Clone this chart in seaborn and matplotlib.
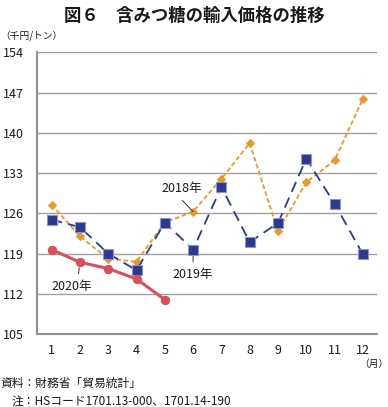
import matplotlib
matplotlib.use("Agg")
import matplotlib.pyplot as plt
import numpy as np
import pandas as pd
import seaborn as sns

# data (thousand yen / tonne)
months = list(range(1, 13))
y2018 = [127.5, 122.0, 118.1, 117.6, 124.4, 126.3, 132.0, 138.2, 122.9, 131.4, 135.2, 145.9]
y2019 = [124.9, 123.6, 119.0, 116.1, 124.4, 119.7, 130.6, 121.0, 124.3, 135.5, 127.7, 118.9]
months_2020 = [1, 2, 3, 4, 5]
y2020 = [119.7, 117.5, 116.4, 114.6, 111.0]
yticks = [105, 112, 119, 126, 133, 140, 147, 154]

sns.set_theme(style="white")
plt.rcParams["font.family"] = ["Noto Sans CJK JP", "DejaVu Sans"]

fig = plt.figure(figsize=(3.88, 4.07), dpi=100)
ax = fig.add_axes([0.0966, 0.179, 0.875, 0.6925])

orange = "#E69A2A"
blue = "#2B3990"
red = "#D9505A"
txt = "#1A1A1A"

sns.lineplot(x=months, y=y2018, ax=ax, color=orange, lw=1.3,
             marker="D", markersize=4.2, markeredgecolor=orange,
             linestyle=(0, (2.6, 1.4)), zorder=3)
sns.lineplot(x=months, y=y2019, ax=ax, color=blue, lw=1.3,
             marker="s", markersize=6.8, markeredgecolor="#8E96C8",
             markeredgewidth=0.8, linestyle=(0, (6, 3.5)), zorder=4)
sns.lineplot(x=months_2020, y=y2020, ax=ax, color=red, lw=2.2,
             marker="o", markersize=6, markeredgecolor=red, zorder=5)

ax.set_xlim(0.5, 12.5)
ax.set_ylim(105, 154)
ax.set_yticks(yticks)
ax.set_yticklabels([str(v) for v in yticks], fontsize=9, color=txt)
ax.set_xticks(months)
ax.set_xticklabels([str(m) for m in months], fontsize=9, color=txt)
ax.tick_params(axis="x", length=0, pad=7)
ax.tick_params(axis="y", direction="out", length=2.5, width=0.8,
               color="#909090", pad=7)
ax.set_xticks(np.arange(0.5, 13, 1), minor=True)
ax.tick_params(axis="x", which="minor", direction="in", length=4,
               width=1, color="#888888")

ax.grid(axis="y", color="#A0A0A0", lw=1)
ax.set_axisbelow(True)
for s in ["top", "right"]:
    ax.spines[s].set_visible(False)
for s in ["left", "bottom"]:
    ax.spines[s].set_color("#909090")
    ax.spines[s].set_linewidth(1.5)
ax.set_xlabel("")
ax.set_ylabel("")

# series labels with leader lines
lead = dict(arrowstyle="-", color="#333333", lw=0.7)
ax.annotate("2018年", xy=(6, y2018[5]), xytext=(5.59, 130.3), fontsize=9,
            color=txt, ha="center", va="center",
            arrowprops=dict(lead, relpos=(0.4, 0.0), shrinkB=0))
ax.annotate("2019年", xy=(6, y2019[5]), xytext=(6.0, 115.4), fontsize=9,
            color=txt, ha="center", va="center",
            arrowprops=dict(lead, relpos=(0.5, 1.0), shrinkB=4.5))
ax.annotate("2020年", xy=(2, y2020[1]), xytext=(1.71, 113.3), fontsize=9,
            color=txt, ha="center", va="center",
            arrowprops=dict(lead, relpos=(0.65, 1.0), shrinkB=4))

fig.text(0.5, 0.962, "図６　含みつ糖の輸入価格の推移", ha="center", va="center",
         fontsize=12.5, fontweight="bold", color=txt)
fig.text(0.0, 0.912, "（千円/トン）", ha="left", va="center", fontsize=7,
         color=txt)
fig.text(1.0, 0.105, "（月）", ha="right", va="center", fontsize=7,
         color=txt)
fig.text(0.0, 0.058, "資料：財務省「貿易統計」", ha="left", va="center",
         fontsize=8.5, color=txt)
fig.text(0.03, 0.015, "注：HSコード1701.13-000、1701.14-190", ha="left",
         va="center", fontsize=8.5, color=txt)

fig.savefig("out.png", dpi=100)
